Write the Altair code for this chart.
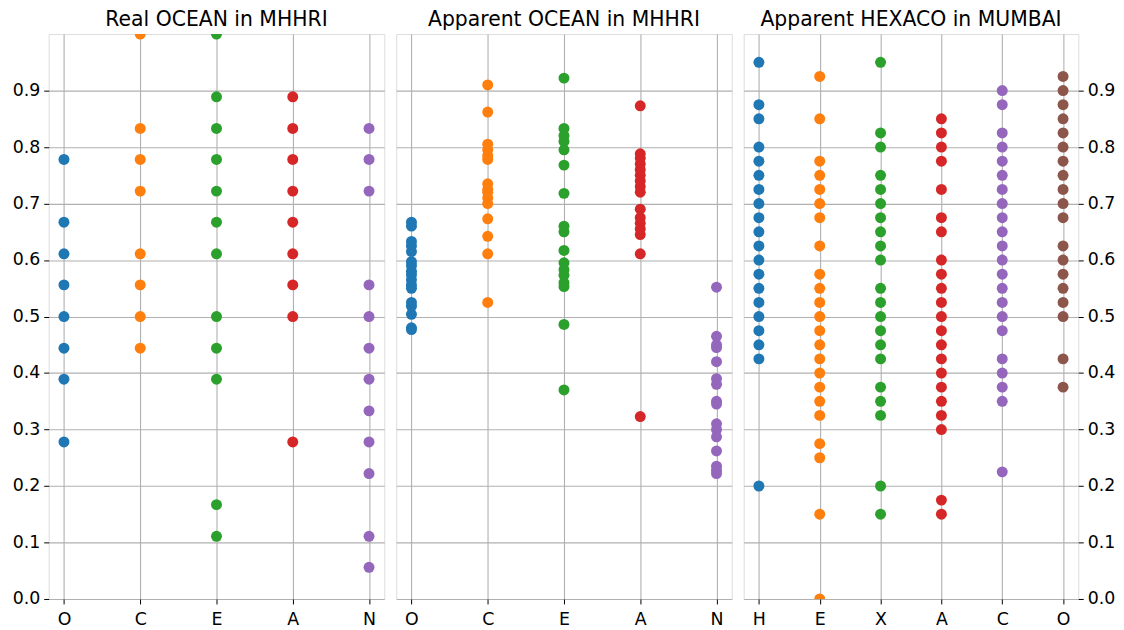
import altair as alt
import pandas as pd

# ---- data ----
ocean_cats = ["O", "C", "E", "A", "N"]
hexaco_cats = ["H", "E", "X", "A", "C", "O"]

real_O = [0.778, 0.667, 0.611, 0.556, 0.5, 0.444, 0.389, 0.278]
real_C = [1.0, 0.833, 0.778, 0.722, 0.611, 0.556, 0.5, 0.444]
real_E = [1.0, 0.889, 0.833, 0.778, 0.722, 0.667, 0.611, 0.5, 0.444, 0.389, 0.167, 0.111]
real_A = [0.889, 0.833, 0.778, 0.722, 0.667, 0.611, 0.556, 0.5, 0.278]
real_N = [0.833, 0.778, 0.722, 0.556, 0.5, 0.444, 0.389, 0.333, 0.278, 0.222, 0.111, 0.056]

app_O = [0.667, 0.660, 0.633, 0.625, 0.615, 0.597, 0.590, 0.580, 0.574, 0.565, 0.556,
         0.550, 0.525, 0.518, 0.504, 0.480, 0.477]
app_C = [0.910, 0.862, 0.805, 0.795, 0.785, 0.778, 0.735, 0.725, 0.720, 0.710, 0.700,
         0.673, 0.642, 0.611, 0.525]
app_E = [0.922, 0.833, 0.820, 0.810, 0.795, 0.768, 0.718, 0.660, 0.650, 0.617, 0.595,
         0.583, 0.573, 0.560, 0.553, 0.486, 0.370]
app_A = [0.873, 0.788, 0.780, 0.770, 0.760, 0.750, 0.740, 0.730, 0.720, 0.690, 0.675,
         0.665, 0.655, 0.645, 0.611, 0.323]
app_N = [0.552, 0.465, 0.450, 0.445, 0.420, 0.390, 0.380, 0.350, 0.345, 0.310, 0.300,
         0.287, 0.262, 0.235, 0.228, 0.222]

mum_H = [0.95, 0.875, 0.85, 0.8, 0.775, 0.75, 0.725, 0.7, 0.675, 0.65, 0.625, 0.6, 0.575,
         0.55, 0.525, 0.5, 0.475, 0.45, 0.425, 0.2]
mum_E = [0.925, 0.85, 0.775, 0.75, 0.725, 0.7, 0.675, 0.625, 0.575, 0.55, 0.525, 0.5, 0.475,
         0.45, 0.425, 0.4, 0.375, 0.35, 0.325, 0.275, 0.25, 0.15, 0.0]
mum_X = [0.95, 0.825, 0.8, 0.75, 0.725, 0.7, 0.675, 0.65, 0.625, 0.6, 0.55, 0.525, 0.5,
         0.475, 0.45, 0.425, 0.375, 0.35, 0.325, 0.2, 0.15]
mum_A = [0.85, 0.825, 0.8, 0.775, 0.725, 0.675, 0.65, 0.6, 0.575, 0.55, 0.525, 0.5, 0.475,
         0.45, 0.425, 0.4, 0.375, 0.35, 0.325, 0.3, 0.175, 0.15]
mum_C = [0.9, 0.875, 0.825, 0.8, 0.775, 0.75, 0.725, 0.7, 0.675, 0.65, 0.625, 0.6, 0.575,
         0.55, 0.525, 0.5, 0.475, 0.425, 0.4, 0.375, 0.35, 0.225]
mum_O = [0.925, 0.9, 0.875, 0.85, 0.825, 0.8, 0.775, 0.75, 0.725, 0.7, 0.675, 0.625, 0.6,
         0.575, 0.55, 0.525, 0.5, 0.425, 0.375]

titles = ["Real OCEAN in MHHRI", "Apparent OCEAN in MHHRI", "Apparent HEXACO in MUMBAI"]
y_ticks = [0.0, 0.1, 0.2, 0.3, 0.4, 0.5, 0.6, 0.7, 0.8, 0.9]
tab10 = ["#1f77b4", "#ff7f0e", "#2ca02c", "#d62728", "#9467bd", "#8c564b"]

FONT = "DejaVu Sans"
TICK_FS = 17.5
TITLE_FS = 20.5
GRID = "#b0b0b0"


def frame(cats, lists):
    rows = []
    for c, vals in zip(cats, lists):
        for v in vals:
            rows.append({"trait": c, "score": v})
    return pd.DataFrame(rows)


def panel(df, cats, title, yaxis, pad, width):
    return alt.Chart(df).mark_circle(size=122, opacity=1, clip=True).encode(
        x=alt.X("trait:N", sort=cats,
                scale=alt.Scale(type="point", domain=cats, padding=pad),
                axis=alt.Axis(title=None, labelAngle=0, grid=True, gridColor=GRID,
                              gridWidth=1.1, tickColor="#000", tickSize=5, domain=False,
                              labelFontSize=TICK_FS, labelColor="#000", labelFont=FONT,
                              labelPadding=7)),
        y=alt.Y("score:Q", scale=alt.Scale(domain=[0, 1.0], nice=False, zero=False),
                axis=yaxis),
        color=alt.Color("trait:N", scale=alt.Scale(domain=cats, range=tab10[:len(cats)]),
                        legend=None),
    ).properties(
        width=width, height=569,
        title=alt.TitleParams(title, fontSize=TITLE_FS, fontWeight="normal", font=FONT,
                              color="#000", offset=3.5, anchor="middle"),
    )


y_left = alt.Axis(title=None, values=y_ticks, format=".1f", grid=True, gridColor=GRID,
                  gridWidth=1.1, tickColor="#000", tickSize=5, domain=False,
                  labelFontSize=TICK_FS, labelColor="#000", labelFont=FONT, labelPadding=4)
y_none = alt.Axis(title=None, values=y_ticks, grid=True, gridColor=GRID, gridWidth=1.1,
                  labels=False, ticks=False, domain=False)
y_right = alt.Axis(title=None, values=y_ticks, format=".1f", orient="right", grid=True,
                   gridColor=GRID, gridWidth=1.1, tickColor="#000", tickSize=5,
                   domain=False, labelFontSize=TICK_FS, labelColor="#000", labelFont=FONT,
                   labelPadding=4)

p1 = panel(frame(ocean_cats, [real_O, real_C, real_E, real_A, real_N]), ocean_cats,
           titles[0], y_left, 0.2, 338)
p2 = panel(frame(ocean_cats, [app_O, app_C, app_E, app_A, app_N]), ocean_cats,
           titles[1], y_none, 0.2, 338)
p3 = panel(frame(hexaco_cats, [mum_H, mum_E, mum_X, mum_A, mum_C, mum_O]), hexaco_cats,
           titles[2], y_right, 0.25, 337)

chart = alt.hconcat(p1, p2, p3, spacing=10).resolve_scale(
    x="independent", y="independent", color="independent"
).properties(
    padding={"left": 3, "top": -1, "right": 0, "bottom": 0}
).configure_view(
    stroke="#000", strokeWidth=1.1
).configure(background="white")

chart.save("out.html", embed_options={"renderer": "svg", "actions": False})
